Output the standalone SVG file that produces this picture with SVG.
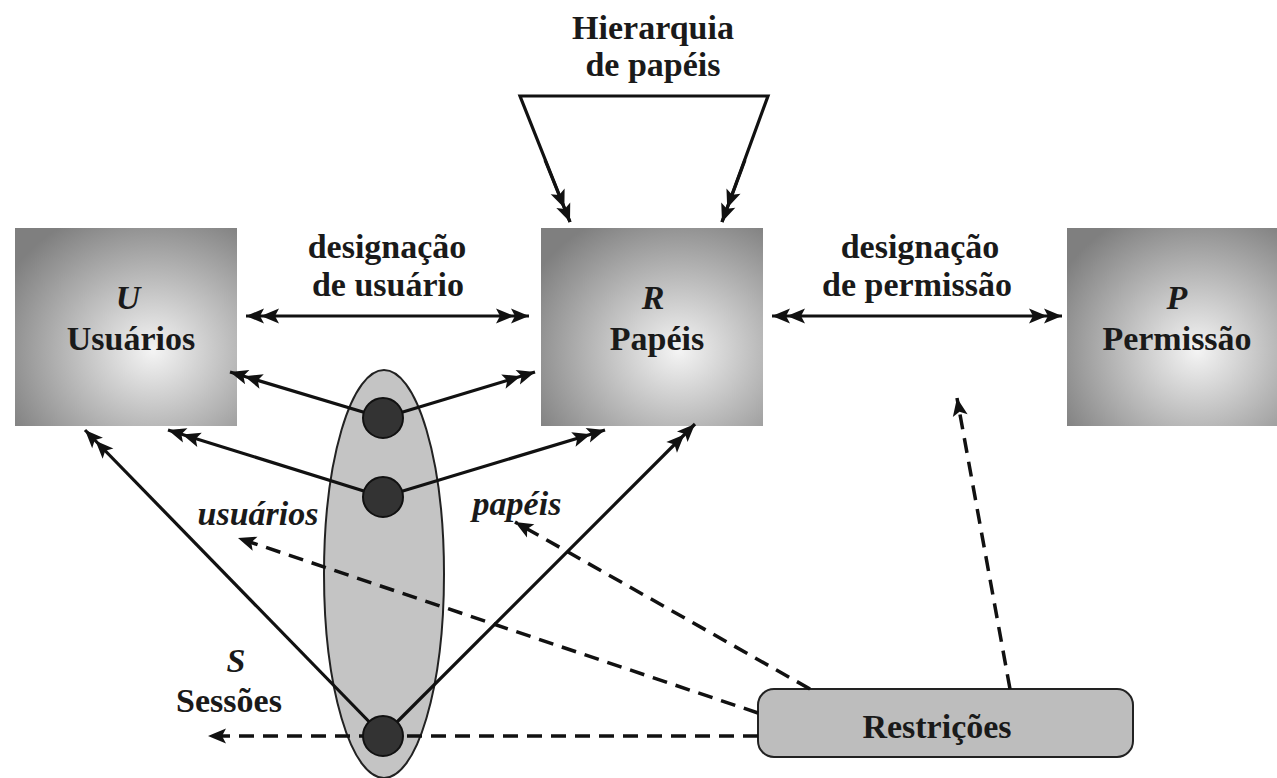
<svg xmlns="http://www.w3.org/2000/svg" width="1277" height="778" viewBox="0 0 1277 778">
<style>
  text { font-family: "Liberation Serif", "DejaVu Serif", serif; font-weight: bold; font-size: 34px; fill: #1a1a1a; text-anchor: middle; }
  .i { font-style: italic; }
  .box { fill: url(#g); }
  .sol { stroke: #111; stroke-width: 3.2; fill: none; marker-end: url(#dbl); }
  .dsh { stroke: #111; stroke-width: 3.5; fill: none; stroke-dasharray: 15 9; marker-end: url(#sgl); }
</style>
<defs>
  <radialGradient id="g" cx="0.62" cy="0.62" r="0.75">
    <stop offset="0" stop-color="#f4f4f4"/>
    <stop offset="1" stop-color="#7f7f7f"/>
  </radialGradient>
  <marker id="dbl" viewBox="0 0 38 16" refX="37" refY="8" markerWidth="38" markerHeight="16" markerUnits="userSpaceOnUse" orient="auto-start-reverse">
    <path d="M37,8 L19,0.5 L23,8 L19,15.5 Z M22,8 L4,0.5 L8,8 L4,15.5 Z" fill="#111"/>
  </marker>
  <marker id="sgl" viewBox="0 0 20 16" refX="19" refY="8" markerWidth="20" markerHeight="16" markerUnits="userSpaceOnUse" orient="auto">
    <path d="M19,8 L1,0.5 L5,8 L1,15.5 Z" fill="#111"/>
  </marker>
</defs>
<rect width="1277" height="778" fill="#fff"/>

<g id="node-U">
  <rect class="box" x="15" y="228" width="222" height="198"/>
  <text class="i" x="128" y="309">U</text>
  <text x="131" y="350">Usuários</text>
</g>
<g id="node-R">
  <rect class="box" x="541" y="228" width="222" height="198"/>
  <text class="i" x="653" y="309">R</text>
  <text x="657" y="350">Papéis</text>
</g>
<g id="node-P">
  <rect class="box" x="1067" y="228" width="210" height="198"/>
  <text class="i" x="1177" y="309">P</text>
  <text x="1177" y="350">Permissão</text>
</g>
<g id="node-S">
  <ellipse cx="384" cy="574" rx="60" ry="204" fill="#c4c4c4" stroke="#222" stroke-width="2"/>
</g>
<g id="node-Restricoes">
  <rect x="758" y="689" width="375" height="68" rx="16" fill="#bdbdbd" stroke="#222" stroke-width="2"/>
  <text x="937" y="738">Restrições</text>
</g>

<g id="labels">
  <text x="387" y="258">designação</text>
  <text x="388" y="296">de usuário</text>
  <text x="920" y="258">designação</text>
  <text x="917" y="296">de permissão</text>
  <text x="653" y="39">Hierarquia</text>
  <text x="653" y="76">de papéis</text>
  <text class="i" x="258" y="525">usuários</text>
  <text class="i" x="517" y="515">papéis</text>
  <text class="i" x="236" y="672">S</text>
  <text x="229" y="712">Sessões</text>
</g>

<g id="connectors">
  <line class="sol" x1="246" y1="316" x2="529" y2="316" style="marker-start:url(#dbl)"/>
  <line class="sol" x1="772" y1="316" x2="1062" y2="316" style="marker-start:url(#dbl)"/>
  <polyline class="sol" points="570,222 520,96 768,96 722,222" style="marker-end:none"/>
  <line class="sol" x1="545" y1="160" x2="570" y2="222"/>
  <line class="sol" x1="745" y1="160" x2="722" y2="222"/>

  <line class="sol" x1="383" y1="418" x2="230" y2="372"/>
  <line class="sol" x1="383" y1="418" x2="535" y2="372"/>
  <line class="sol" x1="383" y1="497" x2="168" y2="430"/>
  <line class="sol" x1="383" y1="497" x2="605" y2="430"/>
  <line class="sol" x1="383" y1="736" x2="85" y2="430"/>
  <line class="sol" x1="383" y1="736" x2="695" y2="424"/>

  <line class="dsh" x1="810" y1="689" x2="515" y2="522"/>
  <line class="dsh" x1="758" y1="713" x2="238" y2="538"/>
  <line class="dsh" x1="758" y1="736" x2="208" y2="736"/>
  <line class="dsh" x1="1010" y1="689" x2="957" y2="398"/>
</g>

<g id="sessions">
  <circle cx="383" cy="418" r="20" fill="#333" stroke="#111" stroke-width="2"/>
  <circle cx="383" cy="497" r="20" fill="#333" stroke="#111" stroke-width="2"/>
  <circle cx="383" cy="736" r="20" fill="#333" stroke="#111" stroke-width="2"/>
</g>
</svg>
